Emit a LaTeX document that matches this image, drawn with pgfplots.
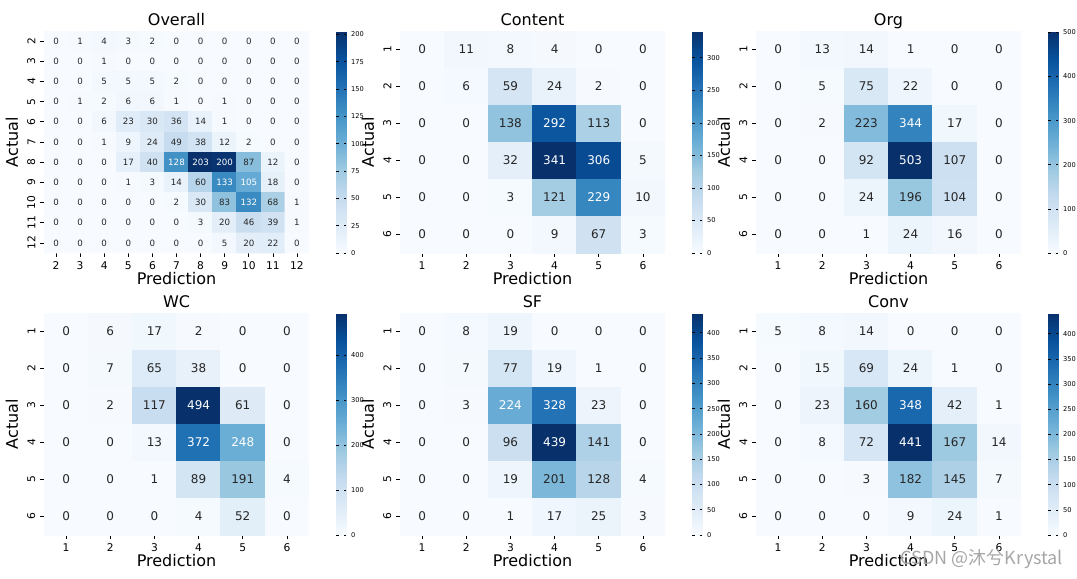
\documentclass[border=0pt]{standalone}
\usepackage{pgfplots}
\pgfplotsset{compat=1.18}
\usepackage{pgfplotstable}
\usepackage{fontspec}
\setmainfont{DejaVu Sans}
\newfontfamily\cjk{Noto Sans CJK SC}

\definecolor{annot}{HTML}{262626}
\pgfplotsset{
  colormap={blues}{rgb255=(247,251,255) rgb255=(222,235,247) rgb255=(198,219,239)
    rgb255=(158,202,225) rgb255=(107,174,214) rgb255=(66,146,198) rgb255=(33,113,181)
    rgb255=(8,81,156) rgb255=(8,48,107)},
  /pgf/number format/assume math mode=true,
}

% x = prediction, y = actual, c = count; one matrix row per source line
\pgfplotstableread[row sep=\\]{x y c\\
2 2 0\\ 3 2 1\\ 4 2 4\\ 5 2 3\\ 6 2 2\\ 7 2 0\\ 8 2 0\\ 9 2 0\\ 10 2 0\\ 11 2 0\\ 12 2 0\\
2 3 0\\ 3 3 0\\ 4 3 1\\ 5 3 0\\ 6 3 0\\ 7 3 0\\ 8 3 0\\ 9 3 0\\ 10 3 0\\ 11 3 0\\ 12 3 0\\
2 4 0\\ 3 4 0\\ 4 4 5\\ 5 4 5\\ 6 4 5\\ 7 4 2\\ 8 4 0\\ 9 4 0\\ 10 4 0\\ 11 4 0\\ 12 4 0\\
2 5 0\\ 3 5 1\\ 4 5 2\\ 5 5 6\\ 6 5 6\\ 7 5 1\\ 8 5 0\\ 9 5 1\\ 10 5 0\\ 11 5 0\\ 12 5 0\\
2 6 0\\ 3 6 0\\ 4 6 6\\ 5 6 23\\ 6 6 30\\ 7 6 36\\ 8 6 14\\ 9 6 1\\ 10 6 0\\ 11 6 0\\ 12 6 0\\
2 7 0\\ 3 7 0\\ 4 7 1\\ 5 7 9\\ 6 7 24\\ 7 7 49\\ 8 7 38\\ 9 7 12\\ 10 7 2\\ 11 7 0\\ 12 7 0\\
2 8 0\\ 3 8 0\\ 4 8 0\\ 5 8 17\\ 6 8 40\\ 7 8 128\\ 8 8 203\\ 9 8 200\\ 10 8 87\\ 11 8 12\\ 12 8 0\\
2 9 0\\ 3 9 0\\ 4 9 0\\ 5 9 1\\ 6 9 3\\ 7 9 14\\ 8 9 60\\ 9 9 133\\ 10 9 105\\ 11 9 18\\ 12 9 0\\
2 10 0\\ 3 10 0\\ 4 10 0\\ 5 10 0\\ 6 10 0\\ 7 10 2\\ 8 10 30\\ 9 10 83\\ 10 10 132\\ 11 10 68\\ 12 10 1\\
2 11 0\\ 3 11 0\\ 4 11 0\\ 5 11 0\\ 6 11 0\\ 7 11 0\\ 8 11 3\\ 9 11 20\\ 10 11 46\\ 11 11 39\\ 12 11 1\\
2 12 0\\ 3 12 0\\ 4 12 0\\ 5 12 0\\ 6 12 0\\ 7 12 0\\ 8 12 0\\ 9 12 5\\ 10 12 20\\ 11 12 22\\ 12 12 0\\
}\overall

\pgfplotstableread[row sep=\\]{x y c\\
1 1 0\\ 2 1 11\\ 3 1 8\\ 4 1 4\\ 5 1 0\\ 6 1 0\\
1 2 0\\ 2 2 6\\ 3 2 59\\ 4 2 24\\ 5 2 2\\ 6 2 0\\
1 3 0\\ 2 3 0\\ 3 3 138\\ 4 3 292\\ 5 3 113\\ 6 3 0\\
1 4 0\\ 2 4 0\\ 3 4 32\\ 4 4 341\\ 5 4 306\\ 6 4 5\\
1 5 0\\ 2 5 0\\ 3 5 3\\ 4 5 121\\ 5 5 229\\ 6 5 10\\
1 6 0\\ 2 6 0\\ 3 6 0\\ 4 6 9\\ 5 6 67\\ 6 6 3\\
}\content

\pgfplotstableread[row sep=\\]{x y c\\
1 1 0\\ 2 1 13\\ 3 1 14\\ 4 1 1\\ 5 1 0\\ 6 1 0\\
1 2 0\\ 2 2 5\\ 3 2 75\\ 4 2 22\\ 5 2 0\\ 6 2 0\\
1 3 0\\ 2 3 2\\ 3 3 223\\ 4 3 344\\ 5 3 17\\ 6 3 0\\
1 4 0\\ 2 4 0\\ 3 4 92\\ 4 4 503\\ 5 4 107\\ 6 4 0\\
1 5 0\\ 2 5 0\\ 3 5 24\\ 4 5 196\\ 5 5 104\\ 6 5 0\\
1 6 0\\ 2 6 0\\ 3 6 1\\ 4 6 24\\ 5 6 16\\ 6 6 0\\
}\org

\pgfplotstableread[row sep=\\]{x y c\\
1 1 0\\ 2 1 6\\ 3 1 17\\ 4 1 2\\ 5 1 0\\ 6 1 0\\
1 2 0\\ 2 2 7\\ 3 2 65\\ 4 2 38\\ 5 2 0\\ 6 2 0\\
1 3 0\\ 2 3 2\\ 3 3 117\\ 4 3 494\\ 5 3 61\\ 6 3 0\\
1 4 0\\ 2 4 0\\ 3 4 13\\ 4 4 372\\ 5 4 248\\ 6 4 0\\
1 5 0\\ 2 5 0\\ 3 5 1\\ 4 5 89\\ 5 5 191\\ 6 5 4\\
1 6 0\\ 2 6 0\\ 3 6 0\\ 4 6 4\\ 5 6 52\\ 6 6 0\\
}\wc

\pgfplotstableread[row sep=\\]{x y c\\
1 1 0\\ 2 1 8\\ 3 1 19\\ 4 1 0\\ 5 1 0\\ 6 1 0\\
1 2 0\\ 2 2 7\\ 3 2 77\\ 4 2 19\\ 5 2 1\\ 6 2 0\\
1 3 0\\ 2 3 3\\ 3 3 224\\ 4 3 328\\ 5 3 23\\ 6 3 0\\
1 4 0\\ 2 4 0\\ 3 4 96\\ 4 4 439\\ 5 4 141\\ 6 4 0\\
1 5 0\\ 2 5 0\\ 3 5 19\\ 4 5 201\\ 5 5 128\\ 6 5 4\\
1 6 0\\ 2 6 0\\ 3 6 1\\ 4 6 17\\ 5 6 25\\ 6 6 3\\
}\sfdata

\pgfplotstableread[row sep=\\]{x y c\\
1 1 5\\ 2 1 8\\ 3 1 14\\ 4 1 0\\ 5 1 0\\ 6 1 0\\
1 2 0\\ 2 2 15\\ 3 2 69\\ 4 2 24\\ 5 2 1\\ 6 2 0\\
1 3 0\\ 2 3 23\\ 3 3 160\\ 4 3 348\\ 5 3 42\\ 6 3 1\\
1 4 0\\ 2 4 8\\ 3 4 72\\ 4 4 441\\ 5 4 167\\ 6 4 14\\
1 5 0\\ 2 5 0\\ 3 5 3\\ 4 5 182\\ 5 5 145\\ 6 5 7\\
1 6 0\\ 2 6 0\\ 3 6 0\\ 4 6 9\\ 5 6 24\\ 6 6 1\\
}\conv

% #1,#2 top left of the heat map in px, #3 title, #4 table, #5..#6 class range,
% #7 colour max, #8 colour bar ticks, #9 font of the cell numbers
\newcommand{\cmplot}[9]{%
  \pgfmathtruncatemacro\cmN{#6-#5+1}%
  \pgfmathsetmacro\cmlo{#5-0.5}%
  \pgfmathsetmacro\cmhi{#6+0.5}%
  \begin{axis}[
    at={(#1*0.75pt,-#2*0.75pt)}, anchor=north west,
    scale only axis, width=198.75pt, height=166.5pt,
    xmin=\cmlo, xmax=\cmhi, ymin=\cmlo, ymax=\cmhi, y dir=reverse,
    xtick={#5,...,#6}, ytick={#5,...,#6},
    xtick pos=bottom, ytick pos=left,
    axis line style={draw=none},
    tick align=outside, major tick length=3pt,
    tick style={black, line width=0.5pt},
    ticklabel style={font=\fontsize{8}{9}\selectfont},
    yticklabel style={rotate=90, anchor=south},
    title={#3},
    title style={font=\fontsize{12}{14}\selectfont, text depth=0pt, inner sep=0pt, yshift=-2pt},
    xlabel={Prediction}, ylabel={Actual},
    label style={font=\fontsize{12}{14}\selectfont},
    xlabel style={yshift=5pt},
    point meta min=0, point meta max=#7,
    colorbar,
    colorbar style={at={(parent axis.north east)}, anchor=north west,
      xshift=12pt, width=7.5pt, ytick={#8},
      axis line style={draw=none}, major tick length=2pt,
      tick style={black, line width=0.4pt},
      yticklabel style={rotate=0, anchor=west, font=\fontsize{5}{6}\selectfont}},
  ]
  \addplot[matrix plot*, mesh/cols=\cmN, point meta=explicit]
    table[x=x, y=y, meta=c]{#4};
  \addplot[only marks, mark=*, mark size=0pt, draw=none, fill=none, point meta=explicit,
    nodes near coords={\ifdim\pgfplotspointmetatransformed pt>480pt\color{white}\else\color{annot}\fi
      \pgfmathprintnumber{\pgfplotspointmeta}},
    every node near coord/.append style={font=#9, inner sep=0pt, anchor=center}]
    table[x=x, y=y, meta=c]{#4};
  \end{axis}%
}

\begin{document}
\begin{tikzpicture}
\path[use as bounding box] (0,0) rectangle (1077*0.75pt,-578*0.75pt);

\cmplot{44}{31}{Overall}{\overall}{2}{12}{203}{0,25,...,200}{\fontsize{6.5}{7}\selectfont}
\cmplot{400}{31}{Content}{\content}{1}{6}{341}{0,50,...,300}{\fontsize{9}{10}\selectfont}
\cmplot{756}{31}{Org}{\org}{1}{6}{503}{0,100,...,500}{\fontsize{9}{10}\selectfont}
\cmplot{44}{313}{WC}{\wc}{1}{6}{494}{0,100,...,400}{\fontsize{9}{10}\selectfont}
\cmplot{400}{313}{SF}{\sfdata}{1}{6}{439}{0,50,...,400}{\fontsize{9}{10}\selectfont}
\cmplot{756}{313}{Conv}{\conv}{1}{6}{441}{0,50,...,400}{\fontsize{9}{10}\selectfont}

\node[anchor=west, text=black!35, font=\cjk\fontsize{13.5}{15}\selectfont]
  at (896*0.75pt,-559*0.75pt) {CSDN @沐兮Krystal};
\end{tikzpicture}
\end{document}
